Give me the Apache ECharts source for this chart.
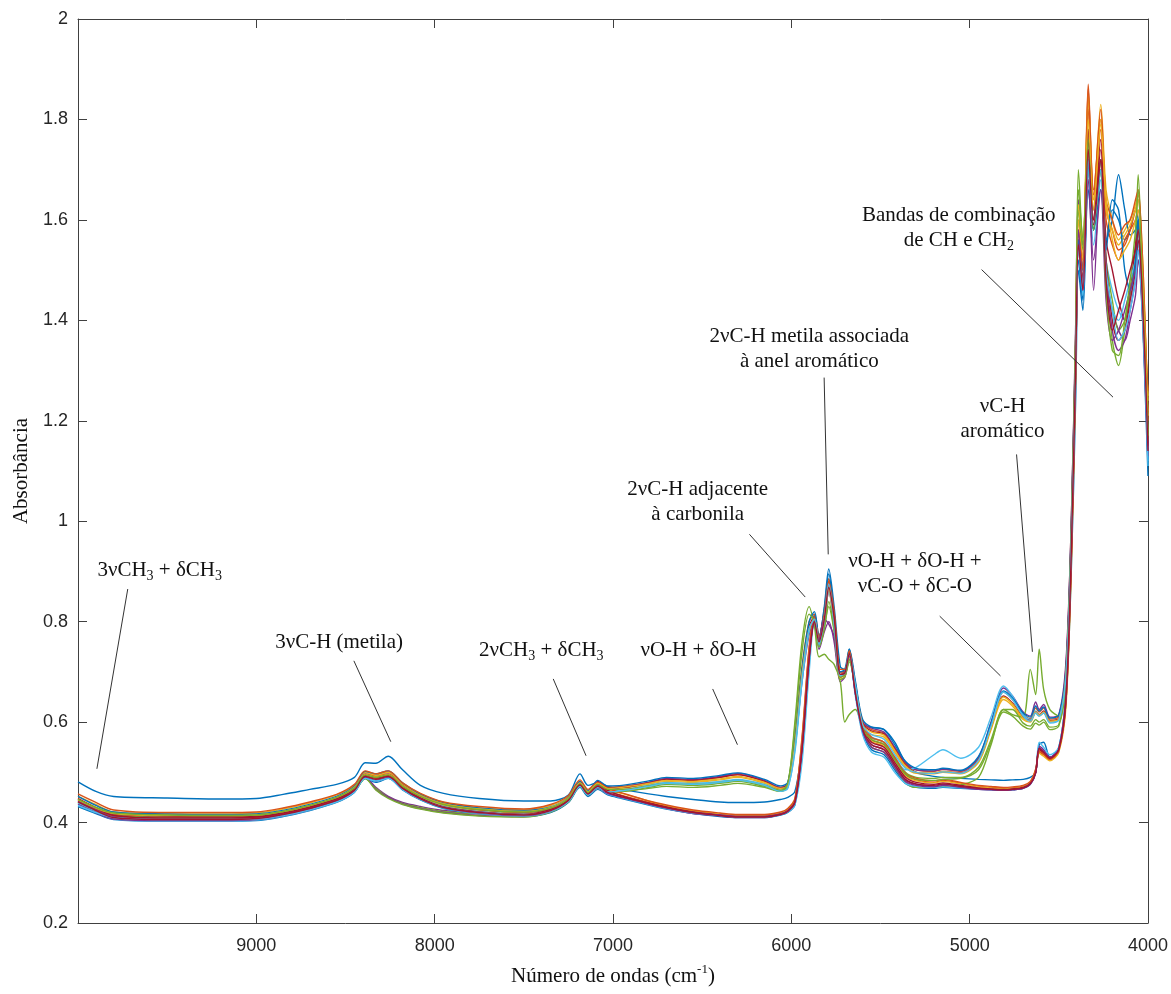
<!DOCTYPE html>
<html>
<head>
<meta charset="utf-8">
<script src="https://cdn.jsdelivr.net/npm/echarts@6/dist/echarts.min.js"></script>
<style>
  html, body { margin: 0; padding: 0; background: #fff; }
  #chart { width: 1171px; height: 994px; }
</style>
</head>
<body>
<div id="chart"></div>
<script>
// wavenumber grid (cm-1), shared by every spectrum
const wavenumber = [
  10000, 9900, 9800, 9500, 9200, 9000, 8850, 8700, 8550, 8450,
  8390, 8330, 8260, 8180, 8080, 7950, 7750, 7500, 7350, 7250,
  7185, 7140, 7085, 7030, 6950, 6800, 6700, 6550, 6400, 6300,
  6150, 6060, 6020, 5980, 5940, 5900, 5870, 5845, 5815, 5790,
  5760, 5725, 5700, 5675, 5640, 5600, 5550, 5480, 5420, 5360,
  5300, 5200, 5150, 5050, 4950, 4880, 4810, 4760, 4700, 4660,
  4630, 4610, 4585, 4550, 4500, 4460, 4430, 4405, 4390, 4365,
  4335, 4305, 4265, 4235, 4200, 4165, 4130, 4100, 4070, 4055,
  4030, 4010, 4000
];

// absorbance of each sample
const s01 = [
  0.481, 0.462, 0.452, 0.449, 0.447, 0.448, 0.456, 0.466, 0.476, 0.490,
  0.519, 0.518, 0.532, 0.505, 0.474, 0.458, 0.448, 0.443, 0.443, 0.455,
  0.497, 0.474, 0.480, 0.472, 0.466, 0.457, 0.452, 0.446, 0.441, 0.440,
  0.441, 0.446, 0.450, 0.462, 0.550, 0.720, 0.815, 0.765, 0.830, 0.905,
  0.830, 0.710, 0.705, 0.745, 0.665, 0.595, 0.590, 0.585, 0.560, 0.520,
  0.500, 0.492, 0.490, 0.488, 0.486, 0.485, 0.484, 0.485, 0.486, 0.490,
  0.500, 0.555, 0.560, 0.530, 0.545, 0.640, 0.900, 1.250, 1.500, 1.420,
  1.660, 1.580, 1.700, 1.550, 1.620, 1.600, 1.560, 1.580, 1.620, 1.600,
  1.400, 1.200, 1.090
];
const s02 = [
  0.448, 0.430, 0.418, 0.414, 0.413, 0.414, 0.421, 0.433, 0.449, 0.470,
  0.500, 0.494, 0.500, 0.476, 0.455, 0.438, 0.427, 0.421, 0.429, 0.448,
  0.480, 0.462, 0.480, 0.470, 0.472, 0.480, 0.486, 0.484, 0.490, 0.496,
  0.482, 0.470, 0.478, 0.570, 0.710, 0.800, 0.815, 0.770, 0.820, 0.885,
  0.810, 0.695, 0.700, 0.735, 0.675, 0.600, 0.585, 0.578, 0.548, 0.518,
  0.505, 0.502, 0.506, 0.502, 0.528, 0.595, 0.660, 0.645, 0.615, 0.607,
  0.628, 0.620, 0.628, 0.606, 0.612, 0.710, 1.000, 1.380, 1.600, 1.520,
  1.870, 1.660, 1.800, 1.620, 1.580, 1.540, 1.550, 1.580, 1.620, 1.640,
  1.500, 1.320, 1.220
];
const s03 = [
  0.438, 0.424, 0.414, 0.410, 0.410, 0.411, 0.418, 0.430, 0.446, 0.466,
  0.492, 0.488, 0.493, 0.470, 0.450, 0.434, 0.424, 0.419, 0.427, 0.446,
  0.476, 0.458, 0.476, 0.466, 0.468, 0.476, 0.482, 0.480, 0.485, 0.490,
  0.478, 0.466, 0.472, 0.550, 0.690, 0.780, 0.800, 0.750, 0.800, 0.860,
  0.790, 0.685, 0.690, 0.725, 0.665, 0.590, 0.575, 0.570, 0.540, 0.510,
  0.498, 0.497, 0.500, 0.497, 0.520, 0.585, 0.645, 0.632, 0.605, 0.600,
  0.618, 0.612, 0.618, 0.600, 0.605, 0.690, 0.970, 1.360, 1.620, 1.550,
  1.840, 1.640, 1.830, 1.660, 1.600, 1.560, 1.580, 1.600, 1.630, 1.650,
  1.520, 1.330, 1.240
];
const s04 = [
  0.442, 0.427, 0.416, 0.412, 0.411, 0.412, 0.419, 0.431, 0.446, 0.466,
  0.490, 0.470, 0.452, 0.440, 0.432, 0.424, 0.418, 0.416, 0.425, 0.444,
  0.474, 0.456, 0.474, 0.465, 0.470, 0.480, 0.488, 0.486, 0.492, 0.498,
  0.484, 0.470, 0.476, 0.550, 0.680, 0.775, 0.800, 0.745, 0.780, 0.800,
  0.760, 0.680, 0.690, 0.725, 0.670, 0.600, 0.588, 0.580, 0.550, 0.520,
  0.505, 0.503, 0.506, 0.503, 0.530, 0.600, 0.668, 0.652, 0.620, 0.612,
  0.640, 0.625, 0.635, 0.610, 0.615, 0.720, 1.000, 1.400, 1.640, 1.550,
  1.700, 1.460, 1.720, 1.500, 1.420, 1.380, 1.360, 1.400, 1.450, 1.520,
  1.420, 1.260, 1.150
];
const s05 = [
  0.440, 0.425, 0.414, 0.410, 0.409, 0.410, 0.417, 0.429, 0.444, 0.463,
  0.487, 0.468, 0.450, 0.438, 0.430, 0.422, 0.417, 0.415, 0.424, 0.442,
  0.472, 0.455, 0.470, 0.462, 0.462, 0.470, 0.476, 0.474, 0.478, 0.482,
  0.472, 0.462, 0.470, 0.560, 0.700, 0.790, 0.800, 0.750, 0.790, 0.830,
  0.780, 0.685, 0.690, 0.720, 0.665, 0.585, 0.568, 0.560, 0.530, 0.500,
  0.490, 0.488, 0.490, 0.490, 0.510, 0.565, 0.625, 0.615, 0.610, 0.705,
  0.655, 0.745, 0.665, 0.625, 0.612, 0.700, 0.980, 1.380, 1.700, 1.550,
  1.780, 1.600, 1.720, 1.480, 1.360, 1.310, 1.380, 1.450, 1.550, 1.690,
  1.480, 1.280, 1.180
];
const s06 = [
  0.436, 0.422, 0.412, 0.408, 0.408, 0.409, 0.416, 0.428, 0.443, 0.463,
  0.490, 0.485, 0.490, 0.468, 0.448, 0.432, 0.422, 0.417, 0.425, 0.444,
  0.474, 0.456, 0.472, 0.463, 0.465, 0.474, 0.480, 0.478, 0.482, 0.486,
  0.476, 0.464, 0.470, 0.540, 0.680, 0.780, 0.800, 0.750, 0.800, 0.870,
  0.790, 0.690, 0.695, 0.730, 0.670, 0.590, 0.570, 0.560, 0.530, 0.505,
  0.510, 0.535, 0.545, 0.528, 0.550, 0.610, 0.672, 0.652, 0.615, 0.605,
  0.622, 0.615, 0.620, 0.600, 0.605, 0.690, 0.960, 1.330, 1.550, 1.480,
  1.740, 1.600, 1.720, 1.520, 1.460, 1.420, 1.400, 1.440, 1.500, 1.560,
  1.420, 1.250, 1.130
];
const s07 = [
  0.444, 0.428, 0.417, 0.413, 0.412, 0.413, 0.420, 0.432, 0.448, 0.468,
  0.497, 0.492, 0.497, 0.474, 0.453, 0.437, 0.426, 0.421, 0.428, 0.447,
  0.478, 0.460, 0.482, 0.470, 0.470, 0.479, 0.486, 0.484, 0.490, 0.495,
  0.482, 0.468, 0.476, 0.560, 0.700, 0.790, 0.810, 0.765, 0.815, 0.880,
  0.800, 0.690, 0.700, 0.735, 0.672, 0.598, 0.582, 0.576, 0.546, 0.515,
  0.500, 0.498, 0.502, 0.499, 0.524, 0.590, 0.652, 0.638, 0.610, 0.603,
  0.620, 0.615, 0.622, 0.603, 0.608, 0.700, 0.980, 1.360, 1.580, 1.500,
  1.760, 1.600, 1.760, 1.560, 1.500, 1.440, 1.400, 1.460, 1.550, 1.580,
  1.450, 1.280, 1.170
];
const s08 = [
  0.432, 0.418, 0.406, 0.403, 0.403, 0.404, 0.412, 0.424, 0.440, 0.460,
  0.488, 0.480, 0.488, 0.465, 0.445, 0.428, 0.418, 0.412, 0.420, 0.440,
  0.470, 0.452, 0.466, 0.455, 0.448, 0.435, 0.427, 0.418, 0.412, 0.410,
  0.410, 0.415, 0.420, 0.435, 0.540, 0.720, 0.810, 0.770, 0.810, 0.870,
  0.800, 0.690, 0.695, 0.730, 0.655, 0.580, 0.545, 0.535, 0.505, 0.478,
  0.470, 0.468, 0.470, 0.468, 0.466, 0.465, 0.464, 0.465, 0.468, 0.476,
  0.500, 0.550, 0.540, 0.530, 0.550, 0.660, 0.940, 1.320, 1.520, 1.440,
  1.720, 1.620, 1.720, 1.560, 1.600, 1.690, 1.620, 1.570, 1.580, 1.600,
  1.450, 1.250, 1.140
];
const s09 = [
  0.446, 0.428, 0.413, 0.408, 0.408, 0.410, 0.418, 0.430, 0.446, 0.466,
  0.494, 0.488, 0.494, 0.470, 0.448, 0.430, 0.420, 0.416, 0.426, 0.446,
  0.478, 0.460, 0.472, 0.462, 0.454, 0.440, 0.432, 0.422, 0.416, 0.413,
  0.413, 0.418, 0.425, 0.445, 0.570, 0.750, 0.810, 0.770, 0.820, 0.885,
  0.820, 0.700, 0.700, 0.740, 0.665, 0.595, 0.565, 0.555, 0.525, 0.495,
  0.485, 0.480, 0.484, 0.478, 0.472, 0.470, 0.468, 0.469, 0.472, 0.480,
  0.505, 0.540, 0.535, 0.525, 0.542, 0.640, 0.920, 1.300, 1.540, 1.480,
  1.820, 1.620, 1.780, 1.600, 1.550, 1.520, 1.560, 1.580, 1.600, 1.620,
  1.480, 1.300, 1.200
];
const s10 = [
  0.452, 0.436, 0.421, 0.417, 0.417, 0.419, 0.427, 0.439, 0.455, 0.474,
  0.500, 0.494, 0.500, 0.477, 0.456, 0.439, 0.429, 0.425, 0.434, 0.452,
  0.482, 0.463, 0.477, 0.466, 0.458, 0.443, 0.433, 0.423, 0.417, 0.414,
  0.414, 0.419, 0.426, 0.444, 0.560, 0.740, 0.800, 0.765, 0.810, 0.870,
  0.810, 0.700, 0.700, 0.738, 0.660, 0.590, 0.562, 0.552, 0.522, 0.492,
  0.483, 0.479, 0.482, 0.477, 0.471, 0.469, 0.467, 0.468, 0.471, 0.479,
  0.502, 0.538, 0.532, 0.523, 0.540, 0.630, 0.910, 1.300, 1.600, 1.520,
  1.850, 1.640, 1.800, 1.620, 1.580, 1.550, 1.570, 1.590, 1.620, 1.640,
  1.500, 1.320, 1.250
];
const s11 = [
  0.443, 0.426, 0.411, 0.406, 0.406, 0.408, 0.416, 0.428, 0.444, 0.464,
  0.492, 0.466, 0.450, 0.437, 0.428, 0.420, 0.414, 0.412, 0.422, 0.442,
  0.474, 0.456, 0.470, 0.458, 0.450, 0.437, 0.428, 0.418, 0.413, 0.410,
  0.410, 0.416, 0.422, 0.438, 0.550, 0.730, 0.795, 0.755, 0.800, 0.860,
  0.800, 0.690, 0.695, 0.735, 0.655, 0.585, 0.555, 0.545, 0.515, 0.485,
  0.476, 0.472, 0.476, 0.472, 0.467, 0.466, 0.465, 0.466, 0.469, 0.478,
  0.500, 0.552, 0.545, 0.530, 0.548, 0.660, 0.950, 1.340, 1.560, 1.460,
  1.720, 1.580, 1.700, 1.500, 1.380, 1.340, 1.360, 1.420, 1.480, 1.520,
  1.400, 1.220, 1.120
];
const s12 = [
  0.440, 0.424, 0.409, 0.405, 0.405, 0.407, 0.415, 0.427, 0.443, 0.462,
  0.488, 0.465, 0.448, 0.436, 0.427, 0.419, 0.413, 0.411, 0.421, 0.441,
  0.472, 0.455, 0.468, 0.460, 0.462, 0.468, 0.472, 0.470, 0.474, 0.478,
  0.470, 0.462, 0.475, 0.600, 0.760, 0.830, 0.790, 0.730, 0.735, 0.725,
  0.715, 0.680, 0.600, 0.615, 0.625, 0.585, 0.550, 0.540, 0.510, 0.480,
  0.470, 0.470, 0.472, 0.475, 0.490, 0.555, 0.625, 0.625, 0.598, 0.592,
  0.605, 0.600, 0.605, 0.590, 0.595, 0.680, 0.950, 1.340, 1.620, 1.540,
  1.740, 1.580, 1.720, 1.520, 1.440, 1.380, 1.400, 1.460, 1.520, 1.580,
  1.440, 1.260, 1.160
];
const s13 = [
  0.438, 0.421, 0.407, 0.403, 0.403, 0.405, 0.413, 0.425, 0.441, 0.461,
  0.489, 0.482, 0.489, 0.466, 0.446, 0.429, 0.418, 0.413, 0.422, 0.442,
  0.473, 0.455, 0.468, 0.457, 0.449, 0.436, 0.428, 0.419, 0.414, 0.411,
  0.411, 0.416, 0.421, 0.435, 0.520, 0.700, 0.800, 0.760, 0.800, 0.860,
  0.800, 0.690, 0.700, 0.730, 0.650, 0.575, 0.540, 0.530, 0.500, 0.478,
  0.472, 0.470, 0.471, 0.469, 0.467, 0.466, 0.465, 0.466, 0.469, 0.478,
  0.500, 0.560, 0.550, 0.535, 0.550, 0.660, 0.950, 1.340, 1.550, 1.450,
  1.700, 1.550, 1.680, 1.500, 1.420, 1.400, 1.440, 1.480, 1.520, 1.550,
  1.420, 1.240, 1.120
];
const s14 = [
  0.447, 0.429, 0.414, 0.409, 0.409, 0.411, 0.419, 0.431, 0.447, 0.467,
  0.495, 0.489, 0.495, 0.471, 0.449, 0.431, 0.421, 0.416, 0.426, 0.446,
  0.477, 0.459, 0.476, 0.464, 0.453, 0.439, 0.431, 0.421, 0.415, 0.412,
  0.412, 0.417, 0.424, 0.442, 0.550, 0.730, 0.800, 0.765, 0.810, 0.875,
  0.815, 0.700, 0.700, 0.740, 0.660, 0.590, 0.560, 0.550, 0.520, 0.490,
  0.480, 0.476, 0.479, 0.474, 0.469, 0.467, 0.466, 0.467, 0.470, 0.478,
  0.500, 0.545, 0.538, 0.528, 0.545, 0.640, 0.930, 1.310, 1.560, 1.480,
  1.780, 1.600, 1.740, 1.520, 1.400, 1.360, 1.380, 1.440, 1.500, 1.560,
  1.440, 1.270, 1.150
];
const s15 = [
  0.452, 0.434, 0.421, 0.417, 0.416, 0.417, 0.424, 0.436, 0.452, 0.472,
  0.502, 0.497, 0.503, 0.479, 0.457, 0.440, 0.429, 0.424, 0.431, 0.450,
  0.482, 0.464, 0.484, 0.473, 0.474, 0.483, 0.490, 0.488, 0.494, 0.499,
  0.486, 0.473, 0.480, 0.565, 0.705, 0.800, 0.820, 0.770, 0.825, 0.895,
  0.815, 0.700, 0.705, 0.745, 0.680, 0.605, 0.590, 0.585, 0.555, 0.522,
  0.508, 0.505, 0.508, 0.504, 0.532, 0.598, 0.662, 0.648, 0.618, 0.610,
  0.632, 0.622, 0.630, 0.608, 0.614, 0.705, 0.990, 1.370, 1.560, 1.500,
  1.720, 1.580, 1.660, 1.540, 1.640, 1.620, 1.500, 1.460, 1.520, 1.600,
  1.460, 1.260, 1.110
];
const s16 = [
  0.457, 0.440, 0.425, 0.420, 0.420, 0.421, 0.429, 0.441, 0.456, 0.476,
  0.503, 0.497, 0.503, 0.479, 0.458, 0.441, 0.432, 0.427, 0.436, 0.454,
  0.485, 0.466, 0.480, 0.468, 0.459, 0.443, 0.435, 0.425, 0.419, 0.416,
  0.416, 0.421, 0.428, 0.448, 0.565, 0.745, 0.805, 0.770, 0.815, 0.880,
  0.815, 0.705, 0.705, 0.742, 0.665, 0.598, 0.570, 0.560, 0.530, 0.498,
  0.488, 0.483, 0.486, 0.480, 0.474, 0.472, 0.470, 0.471, 0.474, 0.482,
  0.506, 0.542, 0.536, 0.526, 0.544, 0.645, 0.925, 1.320, 1.580, 1.500,
  1.860, 1.650, 1.820, 1.640, 1.600, 1.570, 1.590, 1.600, 1.640, 1.660,
  1.520, 1.330, 1.260
];
const s17 = [
  0.445, 0.429, 0.418, 0.414, 0.414, 0.415, 0.422, 0.434, 0.450, 0.470,
  0.496, 0.491, 0.496, 0.473, 0.453, 0.437, 0.427, 0.422, 0.430, 0.449,
  0.479, 0.461, 0.478, 0.468, 0.470, 0.478, 0.484, 0.482, 0.487, 0.492,
  0.480, 0.468, 0.474, 0.555, 0.695, 0.785, 0.805, 0.760, 0.805, 0.865,
  0.795, 0.688, 0.694, 0.728, 0.668, 0.594, 0.580, 0.574, 0.544, 0.513,
  0.500, 0.499, 0.502, 0.498, 0.522, 0.588, 0.650, 0.636, 0.608, 0.602,
  0.620, 0.614, 0.620, 0.602, 0.606, 0.695, 0.975, 1.370, 1.630, 1.560,
  1.800, 1.620, 1.790, 1.640, 1.560, 1.520, 1.540, 1.560, 1.600, 1.620,
  1.480, 1.300, 1.210
];
const s18 = [
  0.436, 0.420, 0.407, 0.404, 0.404, 0.406, 0.414, 0.426, 0.442, 0.462,
  0.490, 0.483, 0.490, 0.467, 0.447, 0.430, 0.419, 0.414, 0.423, 0.443,
  0.474, 0.456, 0.469, 0.458, 0.450, 0.437, 0.429, 0.420, 0.415, 0.412,
  0.412, 0.417, 0.423, 0.440, 0.548, 0.728, 0.805, 0.762, 0.805, 0.795,
  0.770, 0.690, 0.695, 0.732, 0.655, 0.582, 0.550, 0.540, 0.510, 0.482,
  0.474, 0.471, 0.474, 0.470, 0.466, 0.465, 0.464, 0.465, 0.468, 0.476,
  0.498, 0.548, 0.542, 0.530, 0.546, 0.650, 0.940, 1.330, 1.580, 1.460,
  1.680, 1.520, 1.660, 1.440, 1.360, 1.380, 1.420, 1.460, 1.500, 1.540,
  1.420, 1.240, 1.130
];
const s19 = [
  0.446, 0.430, 0.419, 0.415, 0.414, 0.415, 0.422, 0.434, 0.450, 0.469,
  0.495, 0.490, 0.495, 0.472, 0.452, 0.436, 0.426, 0.421, 0.429, 0.448,
  0.477, 0.460, 0.476, 0.466, 0.466, 0.473, 0.478, 0.476, 0.480, 0.484,
  0.474, 0.464, 0.478, 0.590, 0.740, 0.815, 0.800, 0.750, 0.785, 0.840,
  0.785, 0.690, 0.695, 0.725, 0.665, 0.588, 0.565, 0.556, 0.525, 0.496,
  0.486, 0.484, 0.486, 0.488, 0.505, 0.560, 0.620, 0.612, 0.592, 0.586,
  0.598, 0.594, 0.600, 0.585, 0.592, 0.680, 0.960, 1.360, 1.660, 1.560,
  1.760, 1.580, 1.700, 1.460, 1.340, 1.330, 1.400, 1.480, 1.580, 1.660,
  1.460, 1.270, 1.170
];
const s20 = [
  0.434, 0.420, 0.410, 0.406, 0.406, 0.407, 0.414, 0.426, 0.441, 0.461,
  0.488, 0.483, 0.488, 0.466, 0.446, 0.430, 0.420, 0.415, 0.423, 0.442,
  0.472, 0.455, 0.470, 0.461, 0.463, 0.472, 0.478, 0.476, 0.480, 0.484,
  0.474, 0.462, 0.468, 0.545, 0.685, 0.785, 0.805, 0.755, 0.805, 0.875,
  0.795, 0.692, 0.698, 0.735, 0.672, 0.594, 0.575, 0.566, 0.535, 0.508,
  0.500, 0.498, 0.501, 0.498, 0.524, 0.592, 0.660, 0.645, 0.612, 0.602,
  0.618, 0.612, 0.618, 0.598, 0.604, 0.690, 0.960, 1.320, 1.540, 1.470,
  1.720, 1.590, 1.700, 1.500, 1.420, 1.360, 1.380, 1.420, 1.480, 1.540,
  1.400, 1.230, 1.110
];
const s21 = [
  0.441, 0.424, 0.410, 0.406, 0.406, 0.408, 0.416, 0.428, 0.444, 0.464,
  0.492, 0.486, 0.492, 0.468, 0.447, 0.430, 0.420, 0.415, 0.424, 0.444,
  0.475, 0.457, 0.472, 0.460, 0.451, 0.438, 0.430, 0.420, 0.414, 0.411,
  0.411, 0.416, 0.422, 0.440, 0.545, 0.725, 0.800, 0.760, 0.805, 0.868,
  0.808, 0.695, 0.698, 0.736, 0.656, 0.586, 0.555, 0.545, 0.515, 0.486,
  0.477, 0.474, 0.477, 0.472, 0.468, 0.466, 0.465, 0.466, 0.469, 0.477,
  0.499, 0.548, 0.540, 0.528, 0.546, 0.650, 0.940, 1.320, 1.550, 1.460,
  1.740, 1.590, 1.720, 1.480, 1.380, 1.420, 1.460, 1.500, 1.540, 1.580,
  1.430, 1.250, 1.140
];
const spectra = [
  s01, s02, s03, s04, s05, s06, s07,
  s08, s09, s10, s11, s12, s13, s14,
  s15, s16, s17, s18, s19, s20, s21
];

// matlab default line colours
const palette = ['#0072BD', '#D95319', '#EDB120', '#7E2F8E', '#77AC30', '#4DBEEE', '#A2142F'];

// band labels: text, label centre, pointer start, pointer end (wavenumber, absorbance)
const notes = [
  { text: '3νCH{s|3} + δCH{s|3}', at: [9542, 0.901], from: [9721, 0.865], to: [9894, 0.507] },
  { text: '3νC-H (metila)', at: [8536, 0.759], from: [8453, 0.722], to: [8246, 0.561] },
  { text: '2νCH{s|3} + δCH{s|3}', at: [7402, 0.742], from: [7335, 0.686], to: [7151, 0.533] },
  { text: 'νO-H + δO-H', at: [6520, 0.742], from: [6441, 0.666], to: [6302, 0.555] },
  { text: '2νC-H adjacente\nà carbonila', at: [6525, 1.039], from: [6235, 0.974], to: [5922, 0.849] },
  { text: '2νC-H metila associada\nà anel aromático', at: [5899, 1.343], from: [5816, 1.286], to: [5793, 0.934] },
  { text: 'νO-H + δO-H +\nνC-O + δC-O', at: [5307, 0.894], from: [5168, 0.811], to: [4827, 0.692] },
  { text: 'νC-H\naromático', at: [4816, 1.204], from: [4737, 1.133], to: [4648, 0.740] },
  { text: 'Bandas de combinação\nde CH e CH{s|2}', at: [5061, 1.584], from: [4933, 1.501], to: [4196, 1.247] }
];

const SANS = '"Liberation Sans", Arial, sans-serif';
const SERIF = '"Liberation Serif", "Times New Roman", serif';
const AXIS = '#404040';

const chart = echarts.init(document.getElementById('chart'));

const baseX = {
  type: 'value', min: 4000, max: 10000, interval: 1000, inverse: true,
  axisLine: { show: true, onZero: false, lineStyle: { color: AXIS, width: 1 } },
  axisTick: { show: true, inside: true, length: 9, lineStyle: { color: AXIS } },
  splitLine: { show: false }
};
const baseY = {
  type: 'value', min: 0.2, max: 2, interval: 0.2,
  axisLine: { show: true, onZero: false, lineStyle: { color: AXIS, width: 1 } },
  axisTick: { show: true, inside: true, length: 9, lineStyle: { color: AXIS } },
  splitLine: { show: false }
};

chart.setOption({
  animation: false,
  backgroundColor: '#fff',
  grid: { left: 78, right: 19, top: 19, bottom: 70 },
  xAxis: [
    Object.assign({}, baseX, {
      position: 'bottom',
      axisLabel: {
        color: '#262626', fontFamily: SANS, fontSize: 18, margin: 14,
        formatter: v => (v === 10000 ? '' : String(v))
      },
      name: 'Número de ondas (cm{sup|-1})',
      nameLocation: 'middle', nameGap: 40,
      nameTextStyle: {
        color: '#111', fontFamily: SERIF, fontSize: 21, lineHeight: 26,
        rich: { sup: { fontFamily: SERIF, fontSize: 13, lineHeight: 13, verticalAlign: 'top', color: '#111' } }
      }
    }),
    Object.assign({}, baseX, { position: 'top', axisLabel: { show: false } })
  ],
  yAxis: [
    Object.assign({}, baseY, {
      position: 'left',
      axisLabel: {
        color: '#262626', fontFamily: SANS, fontSize: 18, margin: 10,
        formatter: v => String(+v.toFixed(1))
      },
      name: 'Absorbância',
      nameLocation: 'middle', nameGap: 46, nameRotate: 90,
      nameTextStyle: { color: '#111', fontFamily: SERIF, fontSize: 21 }
    }),
    Object.assign({}, baseY, { position: 'right', axisLabel: { show: false } })
  ],
  series: spectra.map((vals, i) => ({
    name: 'amostra ' + (i + 1),
    type: 'line',
    xAxisIndex: 0,
    yAxisIndex: 0,
    showSymbol: false,
    symbol: 'none',
    smooth: 0.3,
    lineStyle: { width: 1.4, color: palette[i % palette.length] },
    data: wavenumber.map((w, k) => [w, vals[k]])
  }))
});

// draw band labels and pointers from their data coordinates
const px = p => chart.convertToPixel({ gridIndex: 0 }, p);
const RICH = {
  s: { fontFamily: SERIF, fontSize: 14, lineHeight: 14, verticalAlign: 'bottom', fill: '#111', color: '#111' }
};
const graphic = [];
notes.forEach(n => {
  const a = px(n.from), b = px(n.to), t = px(n.at);
  graphic.push({
    type: 'line', silent: true, z: 100,
    shape: { x1: a[0], y1: a[1], x2: b[0], y2: b[1] },
    style: { stroke: '#333', lineWidth: 1 }
  });
  graphic.push({
    type: 'text', silent: true, z: 100, x: t[0], y: t[1],
    style: {
      text: n.text, fill: '#111', font: '21px ' + SERIF,
      align: 'center', verticalAlign: 'middle', lineHeight: 25, rich: RICH
    }
  });
});
chart.setOption({ graphic });
</script>
</body>
</html>
